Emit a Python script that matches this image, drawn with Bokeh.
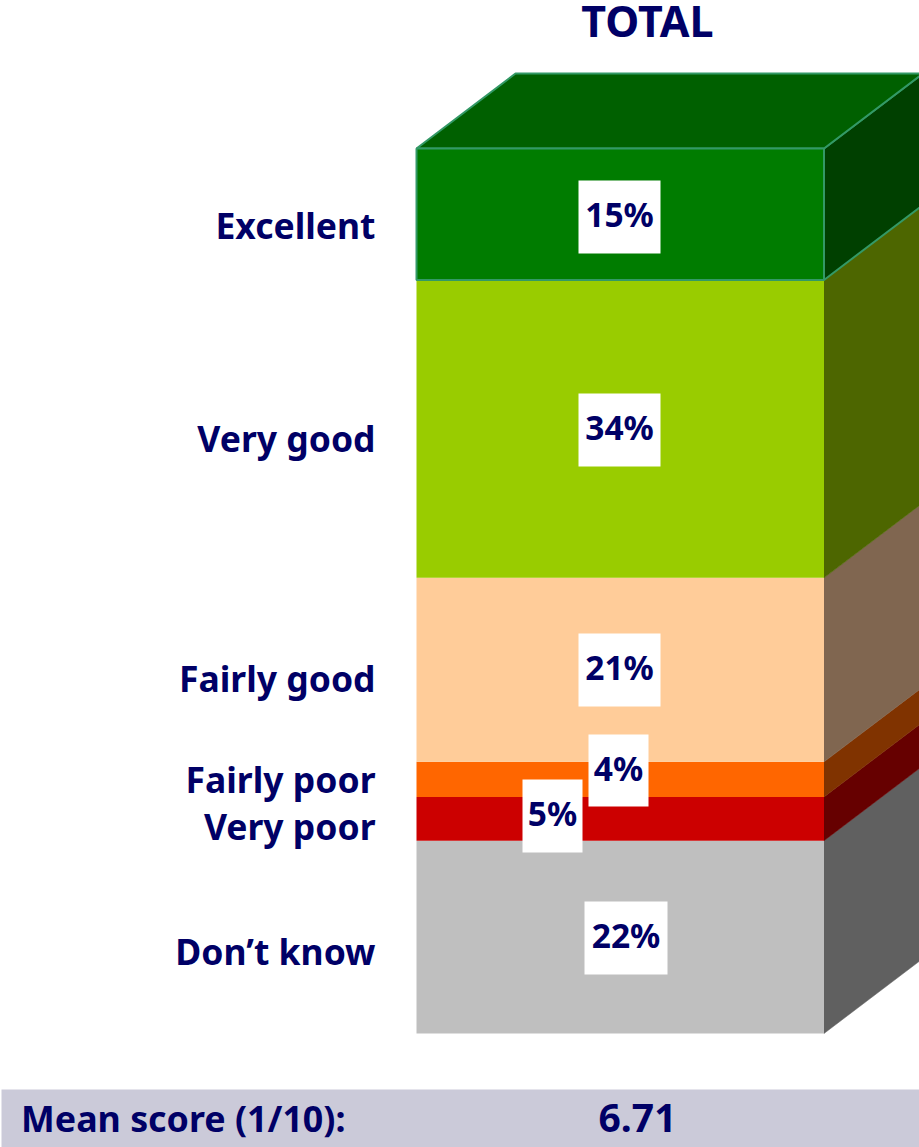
from bokeh.core.properties import value
from bokeh.embed import file_html
from bokeh.models import Range1d
from bokeh.plotting import figure
from bokeh.resources import INLINE

# Survey results, stacked from the bottom of the column upward
categories = ["Don’t know", "Very poor", "Fairly poor", "Fairly good", "Very good", "Excellent"]
shares = [22, 5, 4, 21, 34, 15]
share_labels = ["22%", "5%", "4%", "21%", "34%", "15%"]
front_colors = ["#BFBFBF", "#CC0000", "#FF6600", "#FFCC99", "#99CC00", "#007C00"]
side_colors = ["#606060", "#660000", "#803300", "#806650", "#4D6600", "#004000"]
top_color = "#006000"
edge_color = "#339966"
navy = "#000066"
title = "TOTAL"
mean_label = "Mean score (1/10):"
mean_value = "6.71"

# Page geometry, in window pixels
W, H = 919, 1147
BASE_PX, PX_PER_POINT = 1033, 885 / 101
LEFT, RIGHT = 416, 823.5
DEPTH_X, DEPTH_PX = 99, 75
FONT = value("Noto Sans")
BASELINE_SHIFT = 15  # the SVG text sits this far below the requested row


def py(pixel_y):
    """Convert a window row into the percentage units of the vertical scale."""
    return (BASE_PX - pixel_y) / PX_PER_POINT


p = figure(
    width=W, height=H, output_backend="svg", toolbar_location=None,
    x_range=Range1d(0, W), y_range=Range1d(py(H), py(0)),
    x_axis_location=None, y_axis_location=None, min_border=0,
    outline_line_color=None, background_fill_color="white",
)
p.grid.visible = False

DEPTH_Y = DEPTH_PX / PX_PER_POINT
bottoms, tops = [], []
running = 0
for share in shares:
    bottoms.append(running)
    running += share
    tops.append(running)

# Right-hand faces of the column
p.patches(
    xs=[[RIGHT, RIGHT + DEPTH_X, RIGHT + DEPTH_X, RIGHT] for _ in shares],
    ys=[[b, b + DEPTH_Y, t + DEPTH_Y, t] for b, t in zip(bottoms, tops)],
    fill_color=side_colors, line_color=side_colors, line_width=0.5,
)

# Front faces
p.quad(left=LEFT, right=RIGHT, bottom=bottoms, top=tops,
       fill_color=front_colors, line_color=None)

# Outlined top slice: front, side and lid
hi, lo = tops[-1], bottoms[-1]
p.patch([RIGHT, RIGHT + DEPTH_X, RIGHT + DEPTH_X, RIGHT],
        [lo, lo + DEPTH_Y, hi + DEPTH_Y, hi],
        fill_color=side_colors[-1], line_color=edge_color, line_width=2)
p.patch([LEFT, LEFT + DEPTH_X, RIGHT + DEPTH_X, RIGHT],
        [hi, hi + DEPTH_Y, hi + DEPTH_Y, hi],
        fill_color=top_color, line_color=edge_color, line_width=2)
p.quad(left=LEFT, right=RIGHT, bottom=lo, top=hi,
       fill_color=front_colors[-1], line_color=edge_color, line_width=2)

# White value boxes, each with its percentage centred inside
box_left = [584, 522, 588, 578, 578, 578]
box_right = [667, 582, 648, 660, 660, 660]
box_top = [901, 779, 734, 633, 393, 180]
box_bottom = [974, 852, 806, 706, 466, 253]
p.quad(left=box_left, right=box_right,
       top=[py(v) for v in box_top], bottom=[py(v) for v in box_bottom],
       fill_color="white", line_color=None)
p.text(
    x=[(a + b) / 2 for a, b in zip(box_left, box_right)],
    y=[py((a + b) / 2 - 3) for a, b in zip(box_top, box_bottom)],
    text=share_labels, text_font=FONT, text_font_style="bold",
    text_font_size="33.5px", text_color=navy,
    text_align="center", text_baseline="middle",
)

# Category names, right-aligned beside the column
label_rows = [965, 840, 793, 692, 452, 239]
p.text(
    x=[375] * len(categories), y=[py(v - BASELINE_SHIFT) for v in label_rows],
    text=categories, text_font=FONT, text_font_style="bold",
    text_font_size="35.5px", text_color=navy,
    text_align="right", text_baseline="alphabetic",
)

# Column heading
p.text(x=[647], y=[py(37 - BASELINE_SHIFT - 2)], text=[title], text_font=FONT, text_font_style="bold",
       text_font_size="43px", text_color=navy, text_align="center",
       text_baseline="alphabetic")

# Mean score strip along the bottom
p.quad(left=1, right=W, top=py(1089), bottom=py(H), fill_color="#CBCAD9", line_color=None)
p.text(x=[20.5], y=[py(1132 - BASELINE_SHIFT)], text=[mean_label], text_font=FONT, text_font_style="bold",
       text_font_size="35.8px", text_color=navy, text_align="left", text_baseline="alphabetic")
p.text(x=[637], y=[py(1132 - BASELINE_SHIFT)], text=[mean_value], text_font=FONT, text_font_style="bold",
       text_font_size="39px", text_color=navy, text_align="center", text_baseline="alphabetic")

open("out.html", "w").write(file_html(p, INLINE))
